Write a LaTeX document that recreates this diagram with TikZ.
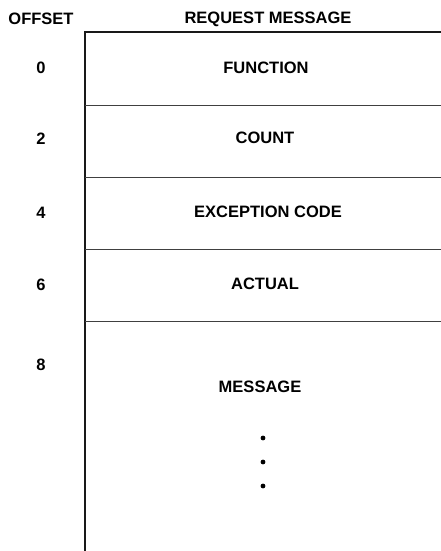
\documentclass[tikz,border=0pt]{standalone}
\usepackage{fontspec}
\setmainfont{Liberation Sans}
\usetikzlibrary{positioning}

\begin{document}
\begin{tikzpicture}[
    x=1pt, y=-1pt,
    font=\bfseries\fontsize{16.5}{19}\selectfont,
    head/.style={inner sep=0pt, anchor=center},
    field/.style={inner sep=0pt, anchor=center},
    offs/.style={inner sep=0pt, anchor=center},
    frame/.style={line width=1.8pt, color=black!90},
    divider/.style={line width=1pt, color=black!75},
    dot/.style={fill=black, radius=2.4pt}
]
    \useasboundingbox (0,0) rectangle (441,551);

    % Headings
    \node[head] (offset) at (41,19) {OFFSET};
    \node[head] (request) at (268,19) {REQUEST MESSAGE};

    % Frame corners
    \coordinate (tl) at (85,32);
    \coordinate (tr) at (441,32);
    \coordinate (bl) at (85,551);

    % Fields
    \node[field] (function) at (266,68) {FUNCTION};
    \node[field] (count) at (265,138) {COUNT};
    \node[field] (exception) at (268,212) {EXCEPTION CODE};
    \node[field] (actual) at (265,284) {ACTUAL};
    \node[field] (message) at (260,387) {MESSAGE};

    % Offsets
    \node[offs] (o0) at (41,68) {0};
    \node[offs] (o2) at (41,139) {2};
    \node[offs] (o4) at (41,213) {4};
    \node[offs] (o6) at (41,285) {6};
    \node[offs] (o8) at (41,365) {8};

    % Frame and dividers
    \draw[frame] (tr) -- (tl) -- (bl);
    \foreach \yy in {105,177,249,321}
        \draw[divider] (85,\yy) -- (441,\yy);

    % Continuation dots
    \foreach \yy in {438,462,486}
        \fill[dot] (263,\yy) circle;
\end{tikzpicture}
\end{document}
